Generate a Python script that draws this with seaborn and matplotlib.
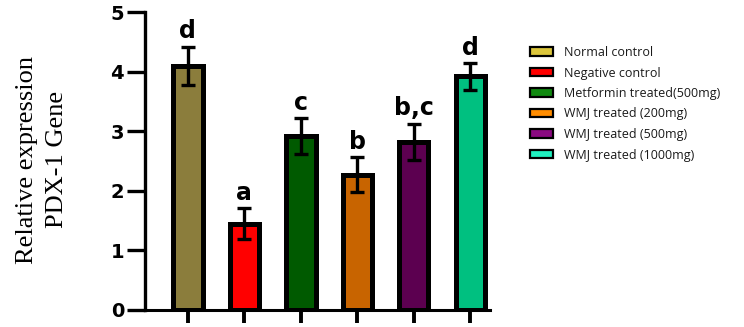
import numpy as np
import seaborn as sns
import matplotlib.pyplot as plt
from matplotlib.patches import Patch


# Data
GROUPS = [
    "Normal control",
    "Negative control",
    "Metformin treated(500mg)",
    "WMJ treated (200mg)",
    "WMJ treated (500mg)",
    "WMJ treated (1000mg)",
]
MEANS = [4.10, 1.45, 2.92, 2.27, 2.82, 3.92]
ERRORS = [0.32, 0.26, 0.30, 0.29, 0.31, 0.22]
LETTERS = ["d", "a", "c", "b", "b,c", "d"]
Y_TICKS = [0, 1, 2, 3, 4, 5]

BAR_COLORS = ["#8b7d3c", "#ff0000", "#005a00", "#c86400", "#5c0050", "#00c080"]
LEGEND_COLORS = ["#dcc63c", "#ff0000", "#108a10", "#ff8c00", "#8a0a80", "#20f0c0"]


def draw_chart():
    sns.set_style("white")
    plt.rcParams["text.color"] = "black"
    fig = plt.figure(figsize=(7.44, 3.27), dpi=100)
    ax = fig.add_axes([0.1949, 0.052, 0.4637, 0.911])

    sns.barplot(
        x=GROUPS,
        y=MEANS,
        hue=GROUPS,
        palette=BAR_COLORS,
        saturation=1,
        width=0.52,
        edgecolor="black",
        linewidth=3.6,
        legend=False,
        ax=ax,
    )

    positions = np.arange(len(GROUPS))
    ax.errorbar(
        positions, MEANS, yerr=ERRORS, fmt="none", ecolor="black",
        elinewidth=2.4, capsize=4.8, capthick=2.4, zorder=5,
    )

    # significance letters above each error bar
    for pos, mean, err, letter in zip(positions, MEANS, ERRORS, LETTERS):
        ax.text(pos, mean + err + 0.14, letter, ha="center", va="baseline",
                fontsize=17, fontweight="bold", family="DejaVu Sans",
                color="black")

    ax.set_xlim(-0.76, 5.35)
    ax.set_ylim(0, 5)
    ax.set_yticks(Y_TICKS)
    ax.set_yticklabels([str(t) for t in Y_TICKS], fontsize=14,
                       fontweight="bold", family="DejaVu Sans")
    ax.set_xticks(positions)
    ax.set_xticklabels([])
    ax.set_xlabel("")
    ax.set_ylabel("")

    ax.tick_params(axis="y", direction="out", length=13, width=2.4,
                   pad=2, left=True, colors="black")
    ax.tick_params(axis="x", direction="out", length=9.5, width=2.8,
                   bottom=True, colors="black")

    sns.despine(ax=ax)
    ax.spines["left"].set_linewidth(2.4)
    ax.spines["bottom"].set_linewidth(2.2)
    ax.spines["left"].set_color("black")
    ax.spines["bottom"].set_color("black")

    fig.text(42 / 744, 0.511, "Relative expression\nPDX-1 Gene",
             rotation=90, ha="center", va="center", multialignment="center",
             fontsize=19, family="Liberation Serif", linespacing=1.5,
             color="black")

    handles = [Patch(facecolor=c, edgecolor="black", linewidth=1.6)
               for c in LEGEND_COLORS]
    fig.legend(
        handles, GROUPS,
        loc="upper left",
        bbox_to_anchor=(530 / 744, 1 - 46 / 327),
        frameon=False,
        borderpad=0,
        borderaxespad=0,
        handlelength=1.8,
        handleheight=0.65,
        handletextpad=0.9,
        labelspacing=0.6,
        prop={"family": "Open Sans", "size": 9},
        labelcolor="#1a1a1a",
    )

    fig.savefig("out.png", dpi=100)


def main():
    draw_chart()


if __name__ == "__main__":
    main()
